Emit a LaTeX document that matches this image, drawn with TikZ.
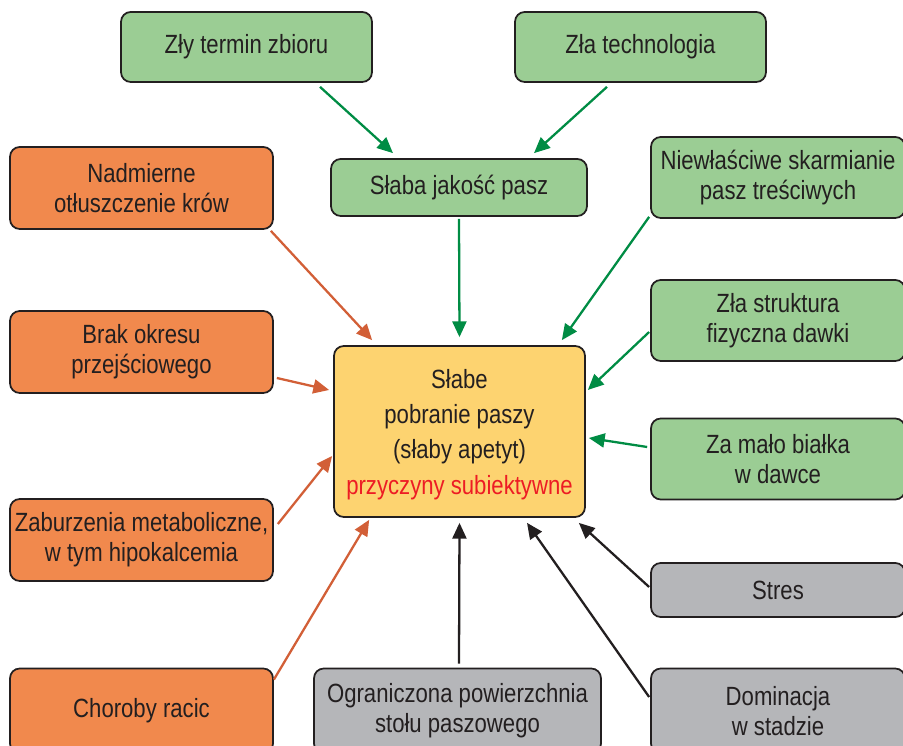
\documentclass[tikz,border=0pt]{standalone}
\usepackage{fontspec}
\setmainfont{Liberation Sans}[FakeStretch=0.84]
\usetikzlibrary{arrows.meta,calc}

\definecolor{ramka}{RGB}{35,31,32}
\definecolor{zielony}{RGB}{155,205,148}
\definecolor{pomarancz}{RGB}{241,137,77}
\definecolor{zolty}{RGB}{253,211,112}
\definecolor{szary}{RGB}{181,182,185}
\definecolor{zielonastrz}{RGB}{0,140,68}
\definecolor{pomstrz}{RGB}{210,95,55}
\definecolor{czerwony}{RGB}{237,28,36}

\begin{document}
\begin{tikzpicture}[x=0.02cm, y=-0.02cm,
    box/.style={draw=ramka, line width=1pt, rounded corners=5.5pt, align=center,
        text=ramka, inner sep=0pt, font=\fontsize{15}{17}\selectfont},
    zbox/.style={box, fill=zielony},
    pbox/.style={box, fill=pomarancz},
    sbox/.style={box, fill=szary},
    strz/.style={line width=1.3pt, -{Triangle[length=9pt, width=8pt]}},
    zstrz/.style={strz, zielonastrz},
    pstrz/.style={strz, pomstrz},
    cstrz/.style={strz, ramka}]
    \useasboundingbox (0,0) rectangle (903,746);

    % Prostokąty - góra
    \node[zbox, minimum width=5.02cm, minimum height=1.4cm] (zly) at (246.5,47) {Zły termin zbioru};
    \node[zbox, minimum width=5.02cm, minimum height=1.4cm] (tech) at (640.5,47) {Zła technologia};
    \node[zbox, minimum width=5.12cm, minimum height=1.14cm] (slaba) at (459,187.5) {Słaba jakość pasz};

    % Prostokąty - lewa strona
    \node[pbox, minimum width=5.26cm, minimum height=1.64cm] (nadm) at (141.5,188) {Nadmierne\\otłuszczenie krów};
    \node[pbox, minimum width=5.26cm, minimum height=1.64cm] (brak) at (141.5,352) {Brak okresu\\przejściowego};
    \node[pbox, minimum width=5.26cm, minimum height=1.64cm] (zab) at (141.5,540) {Zaburzenia metaboliczne,\\w tym hipokalcemia};
    \node[pbox, minimum width=5.26cm, minimum height=1.7cm] (racic) at (141.5,711) {Choroby racic};

    % Prostokąty - prawa strona
    \node[zbox, minimum width=5.08cm, minimum height=1.62cm] (niew) at (778,177.5) {Niewłaściwe skarmianie\\pasz treściwych};
    \node[zbox, minimum width=5.08cm, minimum height=1.62cm] (struk) at (778,320.5) {Zła struktura\\fizyczna dawki};
    \node[zbox, minimum width=5.08cm, minimum height=1.62cm] (bialko) at (778,459) {Za mało białka\\w dawce};
    \node[sbox, minimum width=5.08cm, minimum height=1.08cm] (stres) at (778,590) {Stres};
    \node[sbox, minimum width=5.08cm, minimum height=1.7cm] (dom) at (778,711) {Dominacja\\w stadzie};

    % Prostokąty - dół
    \node[sbox, minimum width=5.74cm, minimum height=1.7cm] (ogr) at (457.5,711) {Ograniczona powierzchnia\\stołu paszowego};

    % Środek
    \node[box, fill=zolty, minimum width=5.02cm, minimum height=3.42cm] (glowny) at (459.5,431.5) {};
    \node[align=center, text=ramka, inner sep=0pt, font=\fontsize{15}{20}\selectfont] (opis) at (459.5,434.5)
        {Słabe\\pobranie paszy\\(słaby apetyt)\\\textcolor{czerwony}{przyczyny subiektywne}};

    % Strzałki zielone
    \draw[zstrz] ($(zly.south)+(73.5,4)$) -- ($(slaba.north)+(-66,-5)$);
    \draw[zstrz] ($(tech.south)+(-33.5,4)$) -- ($(slaba.north)+(75,-5)$);
    \draw[zstrz] ($(slaba.south)+(0,2)$) -- ($(glowny.north)+(0,-8)$);
    \draw[zstrz] ($(niew.south west)+(-1,-2)$) -- ($(glowny.north east)+(-24,-5)$);
    \draw[zstrz] ($(struk.west)+(-1,11.5)$) -- ($(glowny.east)+(2,-41.5)$);
    \draw[zstrz] ($(bialko.west)+(-3,-12)$) -- ($(glowny.east)+(3,6.5)$);

    % Strzałki pomarańczowe
    \draw[pstrz] ($(nadm.south east)+(-3,1)$) -- ($(glowny.north west)+(39,-5)$);
    \draw[pstrz] ($(brak.east)+(3,26)$) -- ($(glowny.west)+(-4,-41.5)$);
    \draw[pstrz] ($(zab.east)+(4,-16)$) -- ($(glowny.west)+(-1,24.5)$);
    \draw[pstrz] ($(racic.north east)+(0,12)$) -- ($(glowny.south west)+(36,2)$);

    % Strzałki czarne
    \draw[cstrz] ($(ogr.north)+(1.5,-4)$) -- ($(glowny.south)+(0,5)$);
    \draw[cstrz] ($(stres.west)+(-1,-3)$) -- ($(glowny.south east)+(-7,5)$);
    \draw[cstrz] ($(dom.west)+(-1,-14)$) -- ($(glowny.south)+(67.5,5)$);
\end{tikzpicture}
\end{document}
